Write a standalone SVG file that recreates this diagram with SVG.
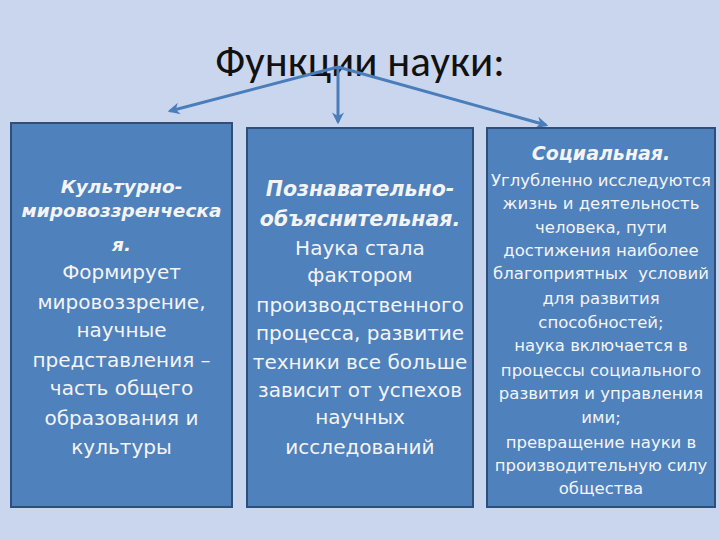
<svg xmlns="http://www.w3.org/2000/svg" width="720" height="540" viewBox="0 0 720 540">
<defs>
<marker id="ah" viewBox="0 0 10 10" refX="8" refY="5" markerWidth="4" markerHeight="4" orient="auto">
<path d="M0,0 L10,5 L0,10 L3,5 z" fill="#4a7ebb"/>
</marker>
<style>
.box{fill:#4f81bd;stroke:#2f4f7a;stroke-width:2}
.t{font-family:"DejaVu Sans",Verdana,sans-serif;fill:#f4f4f4;text-anchor:middle}
.n{font-size:20px}
.s{font-size:16.5px}
.h{font-weight:bold;font-style:italic}
.hn{font-size:20.5px}
.hc{font-size:18.5px}
.conn{stroke:#4a7ebb;stroke-width:3;fill:none;marker-end:url(#ah)}
</style>
</defs>
<rect width="720" height="540" fill="#cad6ee"/>
<g id="title">
<text x="360" y="76" font-family="Carlito,'Open Sans','Liberation Sans',sans-serif" font-size="43" fill="#111" text-anchor="middle">Функции науки:</text>
</g>
<g id="connectors">
<line class="conn" x1="338" y1="67" x2="170" y2="111"/>
<line class="conn" x1="338" y1="67" x2="338" y2="122"/>
<line class="conn" x1="338" y1="67" x2="546" y2="125"/>
</g>
<g id="node-cultural">
<rect class="box" x="11" y="123" width="221" height="384"/>
<text class="t hc h" x="121.5" y="193">Культурно-</text>
<text class="t hc h" x="121.5" y="217">мировоззренческа</text>
<text class="t hc h" x="121.5" y="251">я.</text>
<text class="t n" x="121.5" y="279">Формирует</text>
<text class="t n" x="121.5" y="309">мировоззрение,</text>
<text class="t n" x="121.5" y="337">научные</text>
<text class="t n" x="121.5" y="367">представления –</text>
<text class="t n" x="121.5" y="395">часть общего</text>
<text class="t n" x="121.5" y="425">образования и</text>
<text class="t n" x="121.5" y="454">культуры</text>
</g>
<g id="node-cognitive">
<rect class="box" x="247" y="128" width="226" height="379"/>
<text class="t hn h" x="360" y="196">Познавательно-</text>
<text class="t hn h" x="360" y="226">объяснительная.</text>
<text class="t n" x="360" y="255">Наука стала</text>
<text class="t n" x="360" y="282">фактором</text>
<text class="t n" x="360" y="312">производственного</text>
<text class="t n" x="360" y="340">процесса, развитие</text>
<text class="t n" x="360" y="369">техники все больше</text>
<text class="t n" x="360" y="397">зависит от успехов</text>
<text class="t n" x="360" y="424">научных</text>
<text class="t n" x="360" y="454">исследований</text>
</g>
<g id="node-social">
<rect class="box" x="487" y="128" width="228" height="379"/>
<text class="t h" x="601" y="160" font-size="19">Социальная.</text>
<text class="t s" x="601" y="186">Углубленно исследуются</text>
<text class="t s" x="601" y="209">жизнь и деятельность</text>
<text class="t s" x="601" y="233">человека, пути</text>
<text class="t s" x="601" y="256">достижения наиболее</text>
<text class="t s" x="601" y="279" xml:space="preserve">благоприятных  условий</text>
<text class="t s" x="601" y="304">для развития</text>
<text class="t s" x="601" y="328">способностей;</text>
<text class="t s" x="601" y="351">наука включается в</text>
<text class="t s" x="601" y="376">процессы социального</text>
<text class="t s" x="601" y="399">развития и управления</text>
<text class="t s" x="601" y="423">ими;</text>
<text class="t s" x="601" y="448">превращение науки в</text>
<text class="t s" x="601" y="471">производительную силу</text>
<text class="t s" x="601" y="494">общества</text>
</g>
</svg>
